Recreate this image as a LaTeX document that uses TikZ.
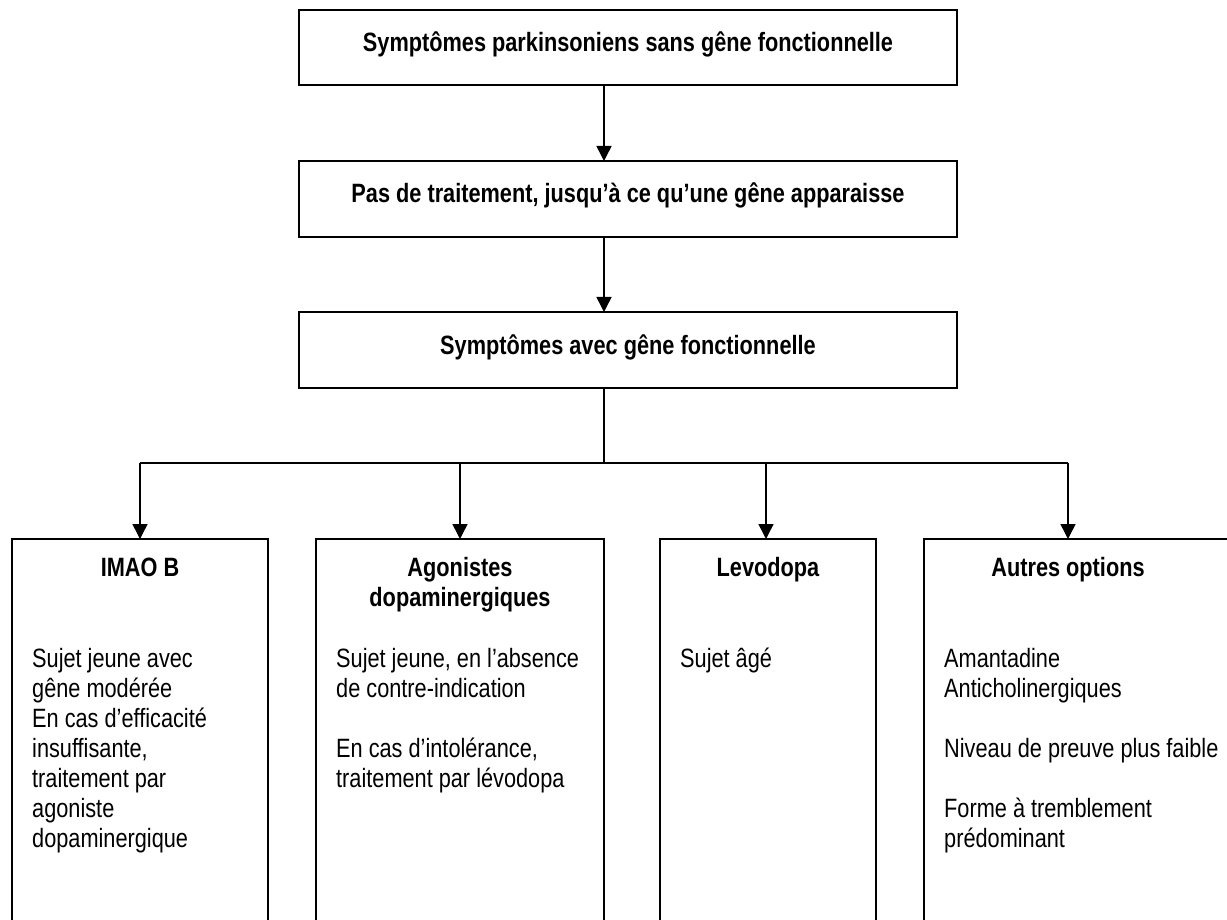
\documentclass[tikz,border=0pt]{standalone}
\usepackage{fontspec}
\setmainfont{Liberation Sans}[FakeStretch=0.82]
\usetikzlibrary{arrows.meta}
\begin{document}
\begin{tikzpicture}[x=1pt,y=-1pt,
  boxline/.style={line width=2pt},
  conn/.style={line width=1.5pt},
  arr/.style={conn,-{Triangle[length=15pt,width=15pt]}},
  hdr/.style={font=\fontsize{26.5}{30}\selectfont\bfseries,align=center,inner sep=0pt,anchor=base},
  body/.style={font=\fontsize{26.5}{30}\selectfont,align=left,inner sep=0pt,anchor=base west},
  toptext/.style={font=\fontsize{26.5}{30}\selectfont\bfseries,inner sep=0pt,anchor=base}]
\useasboundingbox (0,0) rectangle (1227,920);
\fill[white] (0,0) rectangle (1227,920);
% top boxes
\draw[boxline] (299,10) rectangle (957,85);
\draw[boxline] (299,161) rectangle (957,237);
\draw[boxline] (299,312) rectangle (957,388);
\node[toptext] (t1) at (628,52) {Symptômes parkinsoniens sans gêne fonctionnelle};
\node[toptext] (t2) at (628,203) {Pas de traitement, jusqu’à ce qu’une gêne apparaisse};
\node[toptext] (t3) at (628,354) {Symptômes avec gêne fonctionnelle};
\coordinate (b1) at (604,85);
\coordinate (a2) at (604,161);
\coordinate (b2) at (604,237);
\coordinate (a3) at (604,312);
\coordinate (b3) at (604,388);
\coordinate (hub) at (604,463);
\draw[arr] (b1) -- (a2);
\draw[arr] (b2) -- (a3);
\draw[conn] (b3) -- (hub);
% bottom boxes (open at the bottom, cut by the page)
\draw[boxline] (12,940) -- (12,539) -- (268,539) -- (268,940);
\draw[boxline] (316,940) -- (316,539) -- (604,539) -- (604,940);
\draw[boxline] (660,940) -- (660,539) -- (876,539) -- (876,940);
\draw[boxline] (924,940) -- (924,539) -- (1250,539);
\coordinate (ta) at (140,539);
\coordinate (tb) at (460,539);
\coordinate (tc) at (766,539);
\coordinate (td) at (1068,539);
\coordinate (ha) at (140,463);
\coordinate (hb) at (460,463);
\coordinate (hc) at (766,463);
\coordinate (hd) at (1068,463);
\draw[conn] (ha) -- (hd);
\draw[arr] (ha) -- (ta);
\draw[arr] (hb) -- (tb);
\draw[arr] (hc) -- (tc);
\draw[arr] (hd) -- (td);
% headers
\node[hdr] (ha1) at (140,576) {IMAO B};
\node[hdr] (hb1) at (460,606) {Agonistes\\dopaminergiques};
\node[hdr] (hc1) at (768,576) {Levodopa};
\node[hdr] (hd1) at (1068,576) {Autres options};
% bodies
\node[body] (ba) at (32,847) {Sujet jeune avec\\gêne modérée\\En cas d’efficacité\\insuffisante,\\traitement par\\agoniste\\dopaminergique};
\node[body] (bb) at (336,787) {Sujet jeune, en l’absence\\de contre-indication\\[30pt]En cas d’intolérance,\\traitement par lévodopa};
\node[body] (bc) at (680,667) {Sujet âgé};
\node[body] (bd) at (944,847) {Amantadine\\Anticholinergiques\\[30pt]Niveau de preuve plus faible\\[30pt]Forme à tremblement\\prédominant};
\end{tikzpicture}
\end{document}
